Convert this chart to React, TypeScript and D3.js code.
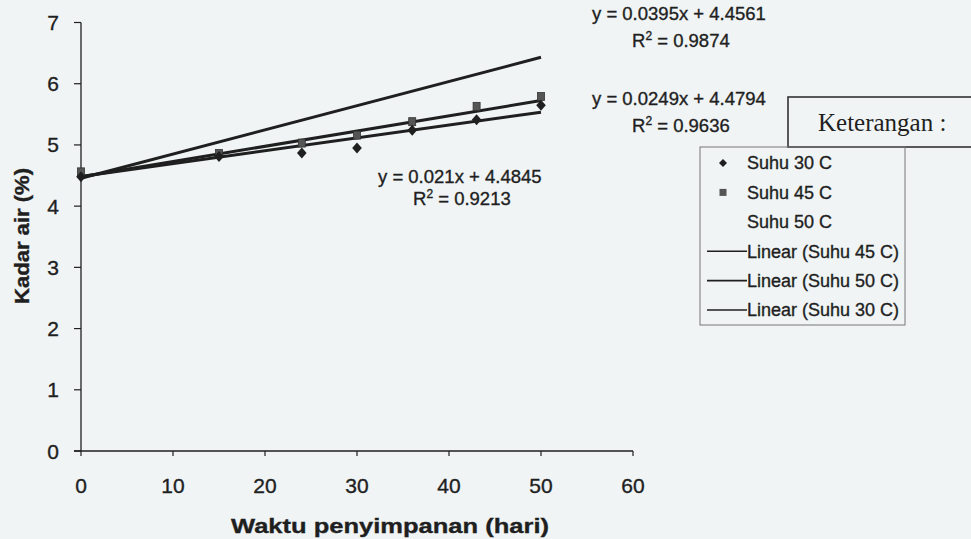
import React from "react";
import * as d3 from "d3";

// hari pengamatan
const days = [0, 15, 24, 30, 36, 43, 50];
// kadar air (%) terukur
const suhu30 = [4.48, 4.81, 4.87, 4.95, 5.24, 5.41, 5.65];
const suhu45 = [4.56, 4.86, 5.03, 5.16, 5.38, 5.63, 5.79];

// garis tren linear
const trendNames = ["Suhu 50 C", "Suhu 45 C", "Suhu 30 C"];
const trendSlope = [0.0395, 0.0249, 0.021];
const trendIntercept = [4.4561, 4.4794, 4.4845];
const trendR2 = ["0.9874", "0.9636", "0.9213"];
const trendEq = ["y = 0.0395x + 4.4561", "y = 0.0249x + 4.4794", "y = 0.021x + 4.4845"];

const xTicks = [0, 10, 20, 30, 40, 50, 60];
const yTicks = [0, 1, 2, 3, 4, 5, 6, 7];

const legendLabels = [
  "Suhu 30 C",
  "Suhu 45 C",
  "Suhu 50 C",
  "Linear (Suhu 45 C)",
  "Linear (Suhu 50 C)",
  "Linear (Suhu 30 C)",
];

const sans = "'Liberation Sans', Arial, sans-serif";
const ink = "#1f1f1f";
// scan makes the text look heavier
const heavy = { stroke: ink, strokeWidth: 0.35 };
const diamond = "M0,-5.5L4.8,0L0,5.5L-4.8,0Z";

const App = () => {
  const x = d3.scaleLinear().domain([0, 60]).range([81, 633]);
  const y = d3.scaleLinear().domain([0, 7]).range([451, 22.5]);

  const line = d3
    .line<number[]>()
    .x((d) => x(d[0]))
    .y((d) => y(d[1]));

  const trendPath = (i: number) =>
    line([0, 50].map((d) => [d, trendSlope[i] * d + trendIntercept[i]]));

  // equation label spots [x, yBaseline, r2 x, r2 baseline]
  const eqPos = [
    [592, 20, 632, 47],
    [592, 105, 632, 132],
    [378, 183, 413, 205],
  ];

  return (
    <div style={{ position: "absolute", left: 0, top: 0 }}>
      <svg width={971} height={539} style={{ display: "block", background: "#f0f4f5" }}>
        {/* axes */}
        <line x1={x(0)} x2={x(0)} y1={y(7)} y2={y(0)} stroke={ink} strokeWidth={1.3} />
        <line x1={x(0) - 7} x2={x(60)} y1={y(0)} y2={y(0)} stroke={ink} strokeWidth={1.3} />
        {yTicks.map((t) => (
          <g key={"y" + t}>
            <line x1={x(0) - 7} x2={x(0)} y1={y(t)} y2={y(t)} stroke={ink} strokeWidth={1.2} />
            <text x={59} y={y(t)} dy="0.36em" textAnchor="end" fontFamily={sans} fontSize={21} fill={ink} {...heavy}>
              {t}
            </text>
          </g>
        ))}
        {xTicks.map((t) => (
          <g key={"x" + t}>
            <line x1={x(t)} x2={x(t)} y1={y(0)} y2={y(0) + 5} stroke={ink} strokeWidth={1.2} />
            <text x={x(t)} y={493} textAnchor="middle" fontFamily={sans} fontSize={21} fill={ink} {...heavy}>
              {t}
            </text>
          </g>
        ))}
        <text
          x={390}
          y={533}
          textAnchor="middle"
          fontFamily={sans}
          fontWeight="bold"
          fontSize={21}
          fill={ink}
          textLength={318}
          lengthAdjust="spacingAndGlyphs"
          {...heavy}
        >
          Waktu penyimpanan (hari)
        </text>
        <text
          transform="translate(29,236) rotate(-90)"
          textAnchor="middle"
          fontFamily={sans}
          fontWeight="bold"
          fontSize={20}
          fill={ink}
          textLength={136}
          lengthAdjust="spacingAndGlyphs"
          {...heavy}
        >
          Kadar air (%)
        </text>

        {/* trend lines */}
        {trendNames.map((n, i) => (
          <path key={n} d={trendPath(i) || ""} fill="none" stroke={ink} strokeWidth={3} />
        ))}

        {/* markers */}
        {days.map((d, i) => (
          <rect
            key={"s" + d}
            x={x(d) - 3.5}
            y={y(suhu45[i]) - 4}
            width={7}
            height={8}
            fill="#555"
            stroke="#333"
            strokeWidth={0.8}
          />
        ))}
        {days.map((d, i) => (
          <path key={"d" + d} d={diamond} transform={`translate(${x(d)},${y(suhu30[i])})`} fill={ink} />
        ))}

        {/* equations */}
        {trendEq.map((eq, i) => (
          <g key={eq} fontFamily={sans} fontSize={18.5} fill={ink} {...heavy}>
            <text x={eqPos[i][0]} y={eqPos[i][1]}>{eq}</text>
            <text x={eqPos[i][2]} y={eqPos[i][3]}>
              R<tspan dy={-7} fontSize={12}>2</tspan>
              <tspan dy={7}> = {trendR2[i]}</tspan>
            </text>
          </g>
        ))}

        {/* Keterangan box */}
        <rect x={788} y={97} width={200} height={50} fill="none" stroke="#333" strokeWidth={1.6} />
        <text x={818} y={131} fontFamily="'Liberation Serif', 'Times New Roman', serif" fontSize={25} fill={ink}>
          Keterangan :
        </text>

        {/* legend */}
        <rect x={700} y={147} width={205} height={178} fill="none" stroke="#777" strokeWidth={1} />
        {legendLabels.map((lab, i) => {
          const cy = 163 + i * 29.4;
          return (
            <g key={lab}>
              {i === 0 && <path d="M0,-4L4,0L0,4L-4,0Z" transform={`translate(723,${cy})`} fill={ink} />}
              {i === 1 && <rect x={719.5} y={cy - 3.5} width={7} height={7} fill="#555" />}
              {i >= 3 && <line x1={707} x2={747} y1={cy} y2={cy} stroke={ink} strokeWidth={1.6} />}
              <text x={747} y={cy} dy="0.36em" fontFamily={sans} fontSize={18} fill={ink} {...heavy}>
                {lab}
              </text>
            </g>
          );
        })}
      </svg>
    </div>
  );
};

export default App;
